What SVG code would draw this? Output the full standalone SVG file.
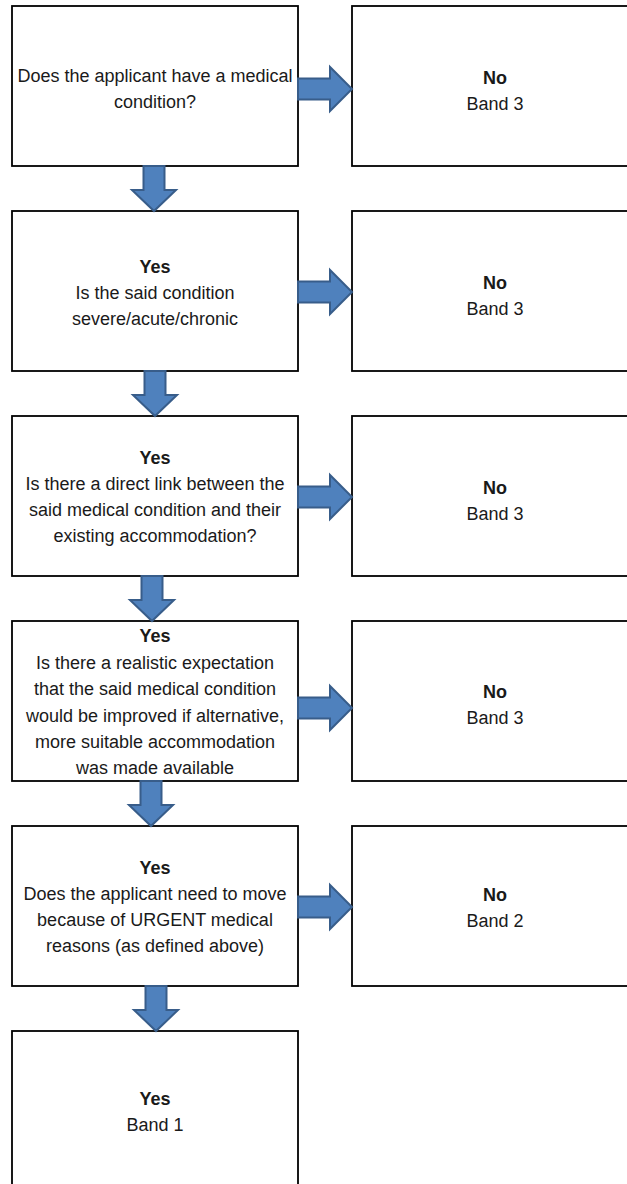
<svg xmlns="http://www.w3.org/2000/svg" width="627" height="1184" viewBox="0 0 627 1184">
<style>
.box{fill:#fff;stroke:#000;stroke-width:1.8}
.t{font-family:"Liberation Sans",Arial,sans-serif;font-size:18px;fill:#1a1a1a;text-anchor:middle}
.b{font-weight:bold}
.arr{fill:#4F81BD;stroke:#385D8A;stroke-width:2;stroke-linejoin:miter}
</style>
<defs>
<path id="down" d="M-10.5,0 H10.5 V24 H22 L0,45 L-22,24 H-10.5 Z"/>
<path id="right" d="M0,-10.5 V10.5 H32 V22 L54,0 L32,-22 V-10.5 Z"/>
</defs>
<g id="q1"><rect class="box" x="12" y="6" width="286" height="160"/>
<text class="t" x="155" y="82">Does the applicant have a medical</text>
<text class="t" x="155" y="108">condition?</text></g>
<g id="n1"><rect class="box" x="352" y="6" width="290" height="160"/>
<text class="t b" x="495" y="84">No</text><text class="t" x="495" y="110">Band 3</text></g>
<g id="q2"><rect class="box" x="12" y="211" width="286" height="160"/>
<text class="t b" x="155" y="273">Yes</text>
<text class="t" x="155" y="299">Is the said condition</text>
<text class="t" x="155" y="325">severe/acute/chronic</text></g>
<g id="n2"><rect class="box" x="352" y="211" width="290" height="160"/>
<text class="t b" x="495" y="289">No</text><text class="t" x="495" y="315">Band 3</text></g>
<g id="q3"><rect class="box" x="12" y="416" width="286" height="160"/>
<text class="t b" x="155" y="464">Yes</text>
<text class="t" x="155" y="490">Is there a direct link between the</text>
<text class="t" x="155" y="516">said medical condition and their</text>
<text class="t" x="155" y="542">existing accommodation?</text></g>
<g id="n3"><rect class="box" x="352" y="416" width="290" height="160"/>
<text class="t b" x="495" y="494">No</text><text class="t" x="495" y="520">Band 3</text></g>
<g id="q4"><rect class="box" x="12" y="621" width="286" height="160"/>
<text class="t b" x="155" y="642">Yes</text>
<text class="t" x="155" y="668.5">Is there a realistic expectation</text>
<text class="t" x="155" y="695">that the said medical condition</text>
<text class="t" x="155" y="721.5">would be improved if alternative,</text>
<text class="t" x="155" y="748">more suitable accommodation</text>
<text class="t" x="155" y="774">was made available</text></g>
<g id="n4"><rect class="box" x="352" y="621" width="290" height="160"/>
<text class="t b" x="495" y="698">No</text><text class="t" x="495" y="724">Band 3</text></g>
<g id="q5"><rect class="box" x="12" y="826" width="286" height="160"/>
<text class="t b" x="155" y="874">Yes</text>
<text class="t" x="155" y="900">Does the applicant need to move</text>
<text class="t" x="155" y="926">because of URGENT medical</text>
<text class="t" x="155" y="952">reasons (as defined above)</text></g>
<g id="n5"><rect class="box" x="352" y="826" width="290" height="160"/>
<text class="t b" x="495" y="901">No</text><text class="t" x="495" y="927">Band 2</text></g>
<g id="r1"><rect class="box" x="12" y="1031" width="286" height="170"/>
<text class="t b" x="155" y="1105">Yes</text>
<text class="t" x="155" y="1131">Band 1</text></g>
<g id="connectors">
<use href="#down" class="arr" x="154" y="166"/>
<use href="#down" class="arr" x="155" y="371"/>
<use href="#down" class="arr" x="152" y="576"/>
<use href="#down" class="arr" x="151" y="781"/>
<use href="#down" class="arr" x="156" y="986"/>
<use href="#right" class="arr" x="298" y="89"/>
<use href="#right" class="arr" x="298" y="292"/>
<use href="#right" class="arr" x="298" y="497"/>
<use href="#right" class="arr" x="298" y="708"/>
<use href="#right" class="arr" x="298" y="907"/>
</g>
</svg>
